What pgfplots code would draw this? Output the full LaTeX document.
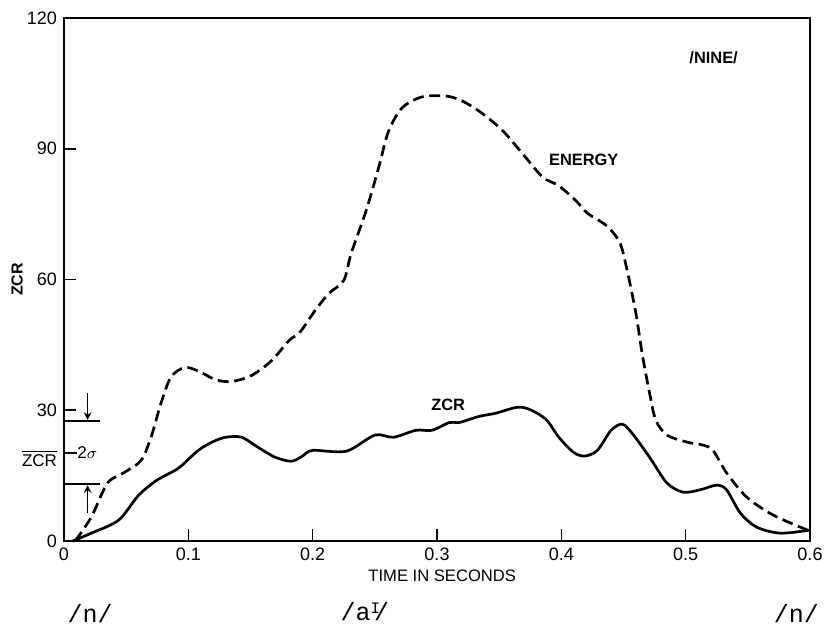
\documentclass[border=0pt]{standalone}
\usepackage{fontspec}
\setmainfont{Liberation Sans}
\newfontfamily\mono{Liberation Mono}
\usepackage{graphicx}
\usepackage{pgfplots}
\pgfplotsset{compat=1.18}

% ZCR and energy contours for /NINE/
\pgfplotstableread{
t     zcr
0.007 0
0.022 1.8
0.044 4.8
0.060 10.5
0.075 14.0
0.092 16.7
0.108 20.8
0.120 22.8
0.130 23.8
0.143 23.8
0.156 21.5
0.170 19.2
0.183 18.3
0.192 19.5
0.200 20.8
0.227 20.6
0.250 24.3
0.265 23.8
0.283 25.4
0.296 25.4
0.310 27.2
0.318 27.2
0.334 28.6
0.347 29.3
0.365 30.7
0.376 30.0
0.388 27.8
0.398 23.8
0.410 20.3
0.419 19.5
0.429 20.8
0.440 25.4
0.449 26.8
0.457 24.7
0.471 19.2
0.485 13.3
0.498 11.2
0.511 11.7
0.525 12.8
0.533 11.7
0.544 6.4
0.557 3.2
0.576 1.8
0.600 2.5
}\zcrdata

\pgfplotstableread{
t     en
0.009 0
0.022 5.5
0.035 13.3
0.049 15.8
0.062 18.5
0.070 23.8
0.078 31.6
0.086 37.6
0.097 39.8
0.108 39.0
0.122 37.0
0.135 36.6
0.151 38.0
0.167 41.4
0.181 46.0
0.190 48.0
0.202 52.9
0.213 56.8
0.225 59.8
0.231 66.0
0.243 75.8
0.253 85.6
0.261 94.0
0.272 99.4
0.288 101.9
0.307 102.1
0.320 101.0
0.336 98.2
0.353 94.1
0.369 88.8
0.385 83.5
0.398 81.5
0.412 78.0
0.421 75.2
0.436 72.4
0.447 68.5
0.453 62.0
0.460 52.2
0.465 43.0
0.471 33.9
0.476 27.7
0.485 24.3
0.501 22.7
0.514 22.0
0.522 20.8
0.533 15.6
0.549 10.1
0.570 6.0
0.598 2.5
}\endata

\begin{document}
\begin{tikzpicture}
\begin{axis}[
  at={(0,0)}, anchor=south west,
  scale only axis, width=373pt, height=261.5pt,
  xmin=0, xmax=0.6, ymin=0, ymax=120,
  xtick={0,0.1,0.2,0.3,0.4,0.5,0.6},
  xticklabels={0,0.1,0.2,0.3,0.4,0.5,0.6},
  ytick={0,30,60,90,120},
  yticklabels={0,30,60,90,120},
  xtick pos=bottom, ytick pos=left,
  tick align=inside, major tick length=6pt,
  axis line style={line width=1pt},
  every tick/.style={black, line width=0.8pt},
  tick label style={font=\fontsize{9}{10}\selectfont},
  xlabel={TIME IN SECONDS}, ylabel={ZCR},
  every axis x label/.style={at={(axis description cs:0.507,-0.067)}, anchor=center, font=\fontsize{8.3}{9}\selectfont},
  every axis y label/.style={at={(axis description cs:-0.063,0.5)}, anchor=center, rotate=90, font=\fontsize{8}{9}\selectfont\bfseries},
  clip=false,
]
\addplot[black, line width=1.35pt, smooth, dash pattern=on 5.5pt off 2.8pt] table[x=t, y=en] {\endata};
\addplot[black, line width=1.35pt, smooth] table[x=t, y=zcr] {\zcrdata};

% labels on the curves
\node[font=\fontsize{8.2}{9}\selectfont\bfseries] at (axis cs:0.418,87.4) {ENERGY};
\node[font=\fontsize{8.2}{9}\selectfont\bfseries] at (axis cs:0.309,31.2) {ZCR};
\node[font=\fontsize{8.2}{9}\selectfont\bfseries] at (axis cs:0.5225,110.8) {/NINE/};

% mean ZCR +- 2 sigma band
\draw[line width=0.8pt] (axis cs:0,27.5) -- (axis cs:0.029,27.5);
\draw[line width=0.8pt] (axis cs:0,13.1) -- (axis cs:0.029,13.1);
\draw[line width=0.7pt, -stealth] (axis cs:0.019,34) -- (axis cs:0.019,27.8);
\draw[line width=0.7pt, -stealth] (axis cs:0.019,6.4) -- (axis cs:0.019,12.8);
\draw[line width=0.8pt] (axis cs:0,20.2) -- (axis cs:0.0105,20.2);
\node[anchor=west, inner sep=0pt, font=\fontsize{8.5}{9}\selectfont] at (axis cs:0.0105,20.2) {2$\sigma$};
\node[font=\fontsize{8.5}{9}\selectfont] at (axis cs:-0.0197,19.0) {$\overline{\mbox{ZCR}}$};

% phoneme labels
\node[font=\fontsize{12.5}{13}\mono] at (axis cs:0.021,-16.6) {/n/};
\node[font=\fontsize{12.5}{13}\mono] at (axis cs:0.242,-16.2) {/a\raisebox{0.55ex}{\fontsize{8}{9}\selectfont I}\kern-0.25em/};
\node[font=\fontsize{12.5}{13}\mono] at (axis cs:0.589,-16.6) {/n/};
\end{axis}
\pgfresetboundingbox
\path[use as bounding box] (-32pt,-42.5pt) rectangle (380pt,270.5pt);
\end{tikzpicture}
\end{document}
